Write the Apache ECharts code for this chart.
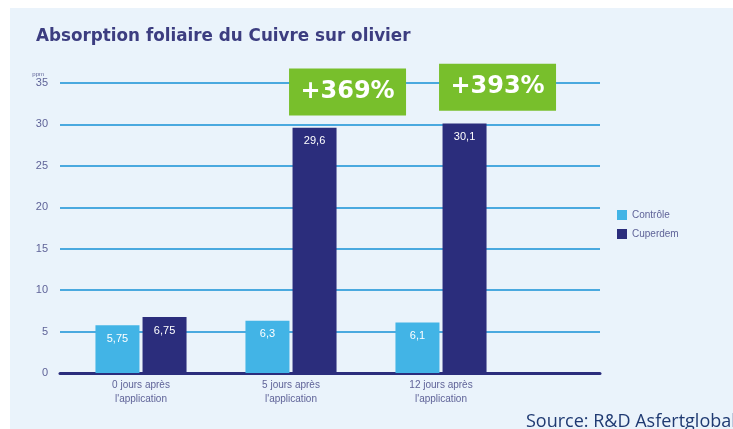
<!DOCTYPE html>
<html>
<head>
<meta charset="utf-8">
<script src="https://cdn.jsdelivr.net/npm/echarts@6/dist/echarts.min.js"></script>
<style>
  html, body { margin: 0; padding: 0; background: #fff; }
  #chart { width: 733px; height: 429px; }
</style>
</head>
<body>
<div id="chart"></div>
<script>
var categories = ["0 jours après\nl'application", "5 jours après\nl'application", "12 jours après\nl'application"];
var controle = [5.75, 6.3, 6.1];
var cuperdem = [6.75, 29.6, 30.1];
var gainLabels = ['+369%', '+393%'];
var gainLevels = [33.9, 34.5];   // vertical centre of the green boxes, in ppm
var yTicks = [0, 5, 10, 15, 20, 25, 30, 35];

var navy = '#2b2d7c';
var light = '#42b4e6';
var textGrey = '#5f6398';

// decimal comma, as on the original
function fr(v) {
	return String(v).replace('.', ',');
}

var option = {
	backgroundColor : '#fff',
	animation : false,
	graphic : [{
		type : 'rect',
		left : 10,
		top : 8,
		shape : { width : 723, height : 421 },
		style : { fill : '#eaf3fb' },
		z : -10
	}],
	title : [{
		text : 'Absorption foliaire du Cuivre sur olivier',
		left : 31,
		top : 23,
		textStyle : {
			fontFamily : 'DejaVu Sans',
			fontSize : 16.8,
			fontWeight : 'bold',
			color : '#3c3d80'
		}
	}, {
		text : 'Source: R&D Asfertglobal',
		left : 521,
		top : 408,
		textStyle : {
			fontFamily : 'Open Sans',
			fontSize : 18,
			fontWeight : 'normal',
			color : '#1f3a72'
		}
	}],
	legend : {
		orient : 'vertical',
		left : 612,
		top : 205,
		icon : 'rect',
		itemWidth : 10,
		itemHeight : 10,
		itemGap : 9,
		data : ['Contrôle', 'Cuperdem'],
		textStyle : {
			fontFamily : 'Liberation Sans',
			fontSize : 10,
			color : textGrey
		}
	},
	grid : [{
		left : 60, right : 133, top : 83, bottom : 56
	}, {
		left : 66, right : 217, top : 83, bottom : 56
	}],
	xAxis : [{
		gridIndex : 0,
		type : 'value',
		min : 0,
		max : 1,
		axisLine : { show : true, onZero : false, lineStyle : { color : navy, width : 3 } },
		axisTick : { show : false },
		axisLabel : { show : false },
		splitLine : { show : false }
	}, {
		gridIndex : 1,
		type : 'category',
		data : categories,
		axisLine : { show : false },
		axisTick : { show : false },
		axisLabel : {
			margin : 5,
			fontFamily : 'Liberation Sans',
			fontSize : 10,
			lineHeight : 14,
			color : textGrey
		}
	}],
	yAxis : [{
		gridIndex : 0,
		type : 'value',
		min : yTicks[0],
		max : yTicks[yTicks.length - 1],
		interval : 5,
		name : 'ppm',
		nameLocation : 'end',
		nameGap : 6,
		nameTextStyle : { fontSize : 6, color : textGrey, align : 'right', padding : [0, 16, 0, 0] },
		axisLine : { show : false },
		axisTick : { show : false },
		axisLabel : {
			margin : 12,
			fontFamily : 'Liberation Sans',
			fontSize : 11,
			color : textGrey
		},
		splitLine : { lineStyle : { color : '#4aa9df', width : 2 } }
	}, {
		gridIndex : 1,
		type : 'value',
		min : 0,
		max : 35,
		show : false,
		splitLine : { show : false }
	}],
	series : [{
		name : 'Contrôle',
		type : 'bar',
		xAxisIndex : 1,
		yAxisIndex : 1,
		barWidth : 44,
		barGap : '7%',
		itemStyle : { color : light },
		label : {
			show : true,
			position : 'insideTop',
			distance : 8,
			color : '#fff',
			fontFamily : 'Liberation Sans',
			fontSize : 11,
			formatter : function(p) { return fr(p.value); }
		},
		data : controle
	}, {
		name : 'Cuperdem',
		type : 'bar',
		xAxisIndex : 1,
		yAxisIndex : 1,
		barWidth : 44,
		barGap : '7%',
		itemStyle : { color : navy },
		label : {
			show : true,
			position : 'insideTop',
			distance : 8,
			color : '#fff',
			fontFamily : 'Liberation Sans',
			fontSize : 11,
			formatter : function(p) { return fr(p.value); }
		},
		markPoint : {
			symbol : 'rect',
			symbolSize : [117, 47],
			symbolOffset : [33, 0],
			itemStyle : { color : '#78bf2c' },
			label : {
				show : true,
				position : 'inside',
				color : '#fff',
				fontFamily : 'DejaVu Sans',
				fontWeight : 'bold',
				fontSize : 24,
				formatter : function(p) { return p.name; }
			},
			data : [
				{ name : gainLabels[0], coord : [1, gainLevels[0]] },
				{ name : gainLabels[1], coord : [2, gainLevels[1]] }
			]
		},
		data : cuperdem
	}]
};

var chart = echarts.init(document.getElementById('chart'));
chart.setOption(option);
</script>
</body>
</html>
